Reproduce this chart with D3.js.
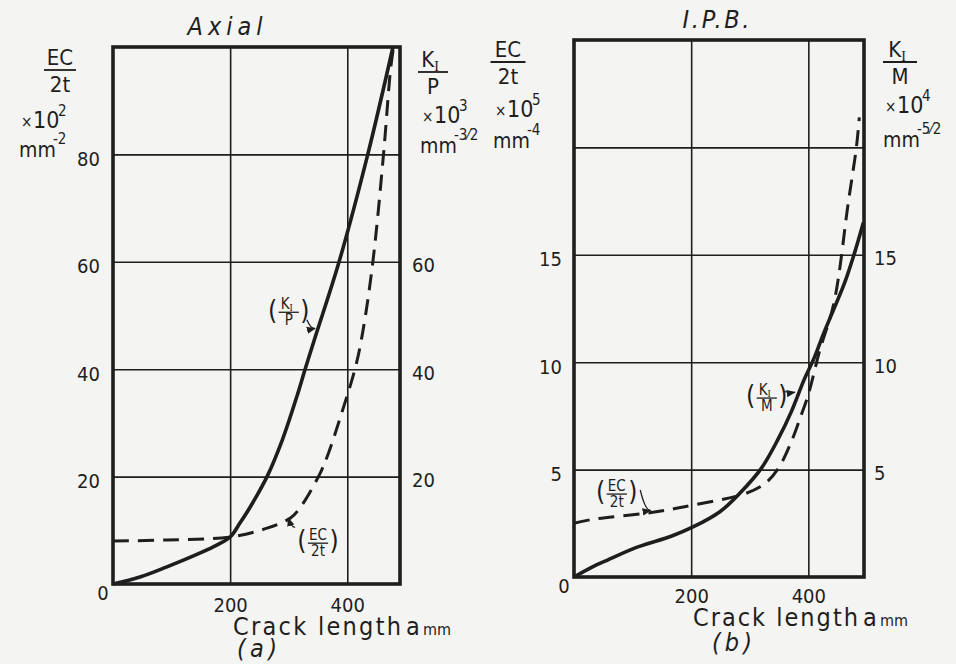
<!DOCTYPE html>
<html><head><meta charset="utf-8">
<script src="https://cdn.jsdelivr.net/npm/d3@7"></script>
<style>
body{margin:0;background:#f4f4f2;}
svg text{font-family:"DejaVu Sans Condensed","DejaVu Sans",sans-serif;font-stretch:condensed;fill:#1e1e1e;}
</style></head><body>
<svg id="chart" width="956" height="664"></svg>
<script>
// ---------- data ----------
const xTicks = [200, 400];
const axialGrid = [20, 40, 60, 80];
const axialLeftTicks = [20, 40, 60, 80];
const axialRightTicks = [20, 40, 60];
const ipbGrid = [5, 10, 15, 20];
const ipbLeftTicks = [5, 10, 15];
const ipbRightTicks = [5, 10, 15];

// (a) Axial : K_I/P (solid) and EC/2t (dashed)
const axialCrackK = [0, 46, 92, 149, 178, 200, 217, 234, 263, 289, 315, 328, 345, 386, 435, 478];
const axialKP     = [0, 1.3, 3.2, 5.8, 7.3, 8.75, 11.4, 14.3, 20, 26.8, 35.3, 40, 45.9, 60, 80, 100];
const axialCrackEC = [0, 92, 200, 263, 303, 320, 354, 368, 388, 414, 427, 444, 462, 474, 479];
const axialEC      = [8.0, 8.2, 8.75, 10.4, 12.3, 14.3, 20.7, 24.4, 31, 40.4, 47.3, 60.3, 80.2, 96, 100];

// (b) I.P.B. : K_I/M (solid) and EC/2t (dashed)
const ipbCrackK = [0, 30, 58, 109, 167, 204, 249, 283, 320, 349, 371, 393, 410, 427, 462, 479, 494];
const ipbKM     = [0, 0.45, 0.8, 1.4, 1.91, 2.34, 3.04, 3.9, 5.07, 6.45, 7.7, 9.2, 10.2, 11.4, 13.7, 15.1, 16.5];
const ipbCrackEC = [0, 29, 132, 205, 291, 325, 349, 371, 388, 400, 419, 444, 468, 482, 487];
const ipbEC      = [2.5, 2.67, 3.0, 3.36, 3.87, 4.33, 5.07, 6.3, 7.55, 8.5, 10.5, 12.8, 17.4, 20, 21.4];

// annotation anchors in data units: [labelX, labelY, arrowFromX, arrowFromY, arrowToX, arrowToY]
const axialKLabel  = [300, 50.6, 331, 49.2, 345, 47.6];
const axialECLabel = [350, 7.6, 311, 10.6, 299, 12.3];
const ipbKLabel    = [329, 8.33, 357, 8.66, 377, 8.6];
const ipbECLabel   = [73, 3.86, 113, 4.05, 131, 3.1];

// ---------- drawing ----------
const ink = "#1e1e1e";
const svg = d3.select("#chart");
svg.append("rect").attr("width", 956).attr("height", 664).attr("fill", "#f4f4f2");
const defs = svg.append("defs");
defs.append("marker").attr("id", "ah").attr("viewBox", "0 0 10 10").attr("refX", 9).attr("refY", 5)
  .attr("markerWidth", 7).attr("markerHeight", 7).attr("orient", "auto")
  .append("path").attr("d", "M0,1 L10,5 L0,9 Z").attr("fill", ink);

function txt(g, x, y, s, size, anchor, extra) {
  const t = g.append("text").attr("x", x).attr("y", y).attr("font-size", size)
    .attr("text-anchor", anchor || "start").text(s);
  if (extra) extra(t);
  return t;
}

function fracLabel(g, cx, cy, num, sub, den, fs) {
  const w = fs * 1.35;
  g.append("line").attr("x1", cx - w / 2).attr("x2", cx + w / 2).attr("y1", cy).attr("y2", cy)
    .attr("stroke", ink).attr("stroke-width", 1.3);
  const n = txt(g, cx - (sub ? 2 : 0), cy - 3, num, fs, "middle");
  if (sub) n.append("tspan").attr("font-size", fs * 0.65).attr("dy", 2)
    .attr("font-family", "Liberation Serif").text(sub);
  txt(g, cx, cy + fs * 0.85, den, fs, "middle");
  txt(g, cx - w / 2 - 6, cy + fs * 0.42, "(", fs * 1.75, "middle").attr("font-weight", 300);
  txt(g, cx + w / 2 + 6, cy + fs * 0.42, ")", fs * 1.75, "middle").attr("font-weight", 300);
}

function panel(cfg) {
  const x = d3.scaleLinear().domain([0, cfg.xMax]).range([cfg.left, cfg.right]);
  const y = d3.scaleLinear().domain([0, cfg.yMax]).range([cfg.bottom, cfg.top]);
  const g = svg.append("g");
  const W = cfg.right - cfg.left, H = cfg.bottom - cfg.top;

  g.append("g").attr("transform", `translate(0,${cfg.bottom})`)
    .call(d3.axisBottom(x).tickValues(xTicks).tickSize(-H).tickFormat(""))
    .call(s => s.select(".domain").remove())
    .call(s => s.selectAll("line").attr("stroke", ink).attr("stroke-width", 1.6));
  g.append("g").attr("transform", `translate(${cfg.left},0)`)
    .call(d3.axisLeft(y).tickValues(cfg.grid).tickSize(-W).tickFormat(""))
    .call(s => s.select(".domain").remove())
    .call(s => s.selectAll("line").attr("stroke", ink).attr("stroke-width", 1.6));

  const styleTicks = s => {
    s.select(".domain").remove();
    s.selectAll("line").remove();
    s.selectAll("text").attr("font-size", 20).attr("fill", ink)
      .attr("font-family", '"DejaVu Sans Condensed","DejaVu Sans",sans-serif');
  };
  g.append("g").attr("transform", `translate(${cfg.left},0)`)
    .call(d3.axisLeft(y).tickValues(cfg.leftTicks).tickSize(0).tickPadding(cfg.padL).tickFormat(d3.format("d")))
    .call(styleTicks).selectAll("text").attr("dy", "0.55em");
  g.append("g").attr("transform", `translate(${cfg.right},0)`)
    .call(d3.axisRight(y).tickValues(cfg.rightTicks).tickSize(0).tickPadding(cfg.padR).tickFormat(d3.format("d")))
    .call(styleTicks).selectAll("text").attr("dy", "0.5em");
  g.append("g").attr("transform", `translate(0,${cfg.bottom})`)
    .call(d3.axisBottom(x).tickValues(xTicks).tickSize(0).tickPadding(cfg.padB).tickFormat(d3.format("d")))
    .call(styleTicks);
  txt(g, x(0) - 10, y(0) + 16, "0", 20, "middle");

  g.append("rect").attr("x", cfg.left).attr("y", cfg.top).attr("width", W).attr("height", H)
    .attr("fill", "none").attr("stroke", ink).attr("stroke-width", 3.6);

  const line = d3.line().x(d => x(d[0])).y(d => y(d[1])).curve(d3.curveCatmullRom.alpha(0.5));
  g.append("path").datum(d3.zip(cfg.ecX, cfg.ecY)).attr("d", line)
    .attr("fill", "none").attr("stroke", ink).attr("stroke-width", 3)
    .attr("stroke-dasharray", "16,9");
  g.append("path").datum(d3.zip(cfg.kX, cfg.kY)).attr("d", line)
    .attr("fill", "none").attr("stroke", ink).attr("stroke-width", 3.6).attr("stroke-linejoin", "round");

  [[cfg.kLab, cfg.kNum, "I", cfg.kDen], [cfg.ecLab, "EC", null, "2t"]].forEach(([a, num, sub, den]) => {
    fracLabel(g, x(a[0]), y(a[1]), num, sub, den, 15);
    g.append("path")
      .attr("d", `M${x(a[2])},${y(a[3])} Q${(x(a[2]) + x(a[4])) / 2},${Math.max(y(a[3]), y(a[5])) + 1} ${x(a[4])},${y(a[5])}`)
      .attr("fill", "none").attr("stroke", ink).attr("stroke-width", 1.3).attr("marker-end", "url(#ah)");
  });
  return g;
}

panel({
  left: 113, right: 400, top: 47, bottom: 584, xMax: 490, yMax: 100,
  grid: axialGrid, leftTicks: axialLeftTicks, rightTicks: axialRightTicks, padL: 13, padR: 12, padB: 14,
  kX: axialCrackK, kY: axialKP, ecX: axialCrackEC, ecY: axialEC,
  kLab: axialKLabel, ecLab: axialECLabel, kNum: "K", kDen: "P"
});
panel({
  left: 574, right: 864, top: 40, bottom: 577, xMax: 495, yMax: 25,
  grid: ipbGrid, leftTicks: ipbLeftTicks, rightTicks: ipbRightTicks, padL: 12, padR: 10, padB: 12,
  kX: ipbCrackK, kY: ipbKM, ecX: ipbCrackEC, ecY: ipbEC,
  kLab: ipbKLabel, ecLab: ipbECLabel, kNum: "K", kDen: "M"
});

// ---------- titles & axis titles ----------
const T = svg.append("g");
function axisTitle(cx, lineY, lineW, num, sub, den, xPow, pow, unitExp, baseY) {
  T.append("line").attr("x1", cx - lineW / 2).attr("x2", cx + lineW / 2).attr("y1", lineY).attr("y2", lineY)
    .attr("stroke", ink).attr("stroke-width", 1.8);
  const n = txt(T, cx - (sub ? 3 : 0), lineY - 5, num, 22, "middle");
  if (sub) n.append("tspan").attr("font-size", 14).attr("dy", 4).attr("font-family", "Liberation Serif").text(sub);
  txt(T, cx, lineY + 22, den, 22, "middle");
  txt(T, xPow, baseY[0] - 1, "×", 15);
  txt(T, xPow + 12, baseY[0], "10", 23);
  txt(T, xPow + 37, baseY[0] - 12, pow, 15);
  txt(T, xPow - 2, baseY[1], "mm", 21);
  txt(T, xPow + 32, baseY[1] - 13, unitExp, 15);
}
axisTitle(60, 70, 32, "EC", null, "2t", 21, "2", "-2", [128, 157]);
axisTitle(433, 72, 30, "K", "I", "P", 422, "3", "-3⁄2", [123, 153]);
axisTitle(508, 62, 35, "EC", null, "2t", 495, "5", "-4", [117, 148]);
axisTitle(900, 62, 34, "K", "I", "M", 885, "4", "-5⁄2", [113, 147]);

txt(T, 225, 35, "Axial", 25, "middle").attr("font-style", "italic").attr("textLength", 75).attr("lengthAdjust", "spacing");
txt(T, 716, 28, "I.P.B.", 25, "middle").attr("font-style", "italic").attr("textLength", 67).attr("lengthAdjust", "spacing");

function xTitle(x0, base, len, tag, tagX, tagBase) {
  txt(T, x0, base, "Crack length", 25).attr("textLength", len).attr("lengthAdjust", "spacing");
  txt(T, x0 + len + 5, base, "a", 25);
  txt(T, x0 + len + 22, base, "mm", 16);
  txt(T, tagX, tagBase, tag, 25).attr("font-style", "italic").attr("textLength", 40).attr("lengthAdjust", "spacing");
}
xTitle(233, 635, 168, "(a)", 237, 657);
xTitle(693, 626, 165, "(b)", 712, 651);
</script>
</body></html>
